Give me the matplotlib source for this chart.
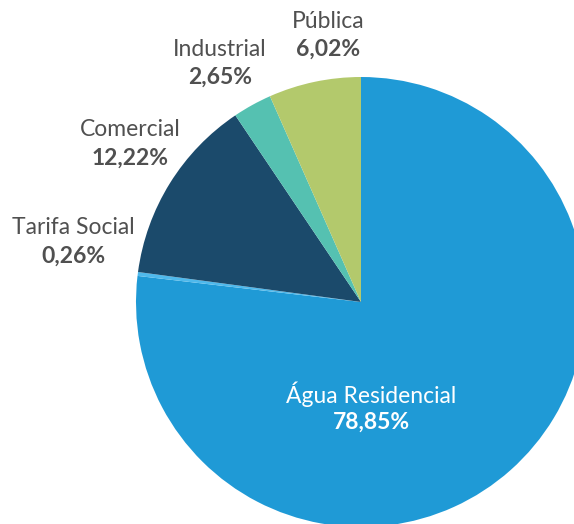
import matplotlib.pyplot as plt

plt.rcParams['font.family'] = ['Lato', 'DejaVu Sans']

# slices in clockwise order starting at 12 o'clock
categories = ['Água Residencial', 'Tarifa Social', 'Comercial', 'Industrial', 'Pública']
shares = [76.85, 0.28, 13.44, 2.80, 6.63]          # slice sizes as drawn in the picture
pct_labels = ['78,85%', '0,26%', '12,22%', '2,65%', '6,02%']
colors = ['#1f9ad6', '#4fb9ec', '#1b4a6b', '#55c1b1', '#b3c96c']

W, H = 574, 524
fig = plt.figure(figsize=(W / 100, H / 100), dpi=100)
ax = fig.add_axes([0, 0, 1, 1])

# work in pixel units, y measured from the bottom
cx, cy, r = 361, H - 302, 225
ax.pie(shares, colors=colors, startangle=90, counterclock=False,
       center=(cx, cy), radius=r, wedgeprops=dict(linewidth=0))

ax.set_xlim(0, W)
ax.set_ylim(0, H)
ax.set_aspect('equal')
ax.axis('off')

# label anchor points (pixels from top-left)
label_pos = [(371, 394), (73, 228), (130, 130), (220, 49), (328, 21)]
gray = '#505050'
for name, pct, (x, y) in zip(categories, pct_labels, label_pos):
    c = 'white' if name == 'Água Residencial' else gray
    ax.text(x, H - y, name, ha='center', va='center', fontsize=16.5, color=c)
    ax.text(x, H - y - 28, pct, ha='center', va='center', fontsize=16.5,
            fontweight='bold', color=c)

fig.savefig('out.png', dpi=100)
